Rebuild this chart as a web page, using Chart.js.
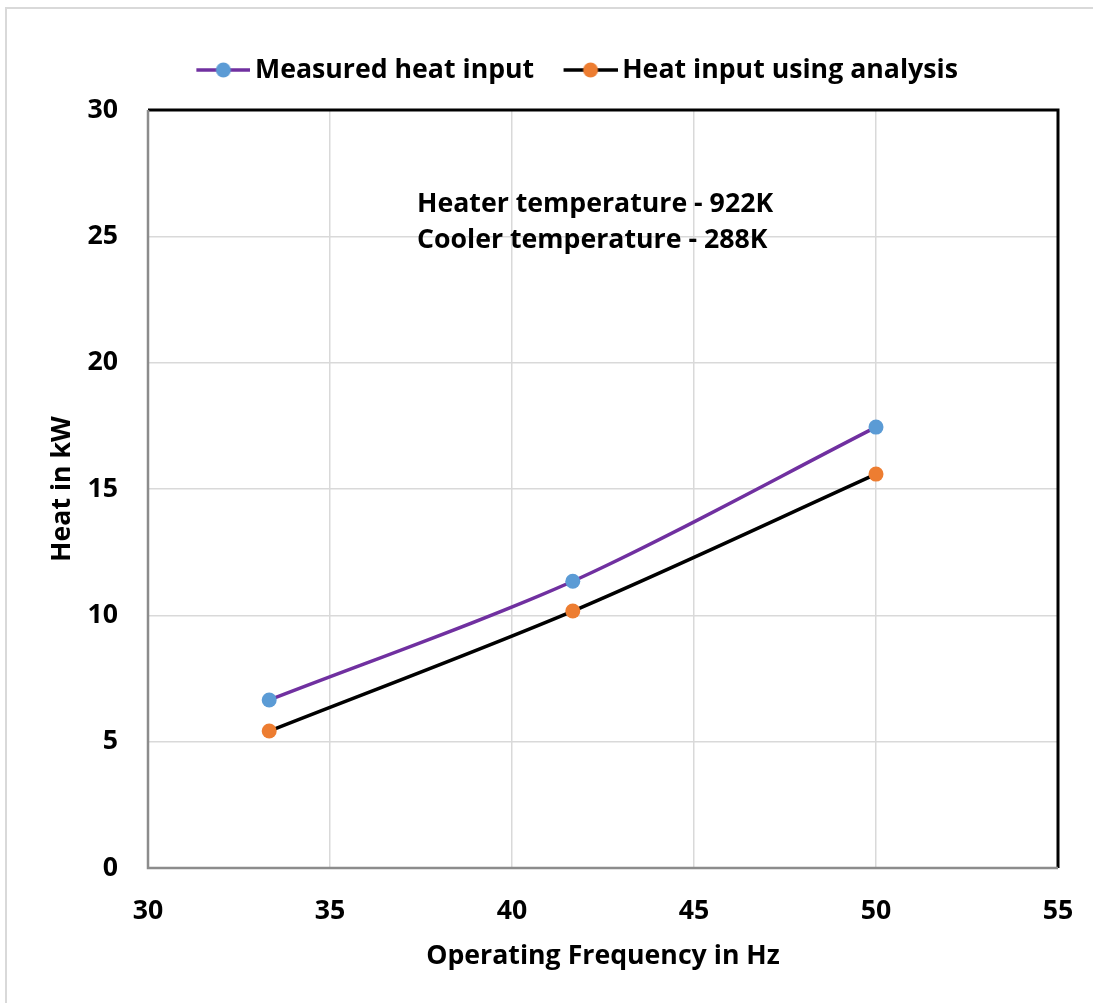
<!DOCTYPE html>
<html>
<head>
<meta charset="utf-8">
<script src="https://cdn.jsdelivr.net/npm/chart.js@4.4.1/dist/chart.umd.min.js"></script>
<style>
  html, body { margin: 0; padding: 0; background: #fff; }
  #wrap { position: relative; width: 1093px; height: 1003px; overflow: hidden; }
  #frame { position: absolute; left: 5px; top: 7px; width: 1100px; height: 1010px; border-left: 2px solid #d9d9d9; border-top: 2px solid #d9d9d9; box-sizing: border-box; pointer-events: none; }
  canvas { position: absolute; left: 0; top: 0; }
</style>
</head>
<body>
<div id="wrap">
  <canvas id="c" width="1093" height="1003"></canvas>
  <div id="frame"></div>
</div>
<script>
const frequencies = [33.33, 41.67, 50];
const measuredHeat = [6.65, 11.35, 17.45];
const analysisHeat = [5.42, 10.17, 15.59];
const seriesNames = ["Measured heat input", "Heat input using analysis"];
const xTitle = "Operating Frequency in Hz";
const yTitle = "Heat in kW";
const noteLines = ["Heater temperature - 922K", "Cooler temperature - 288K"];
const xRange = [30, 55, 5];
const yRange = [0, 30, 5];

const FAMILY = "'Open Sans', 'Noto Sans', sans-serif";

function build() {
  // size font so its width matches the reference's Calibri-bold text
  const mctx = document.createElement('canvas').getContext('2d');
  mctx.font = "bold 100px " + FAMILY;
  const fs = Math.round(100 * 356 / mctx.measureText(noteLines[0]).width * 10) / 10;
  const FONT = { family: FAMILY, size: fs, weight: 'bold' };
  const lh = fs * 1.2;

  const P = { left: 0, right: 35, bottom: 0 };
  const LEG_PAD = 29;
  P.top = 110 - (fs + LEG_PAD + 10);

  // legend icon: line + dot; box width chosen so text starts 59px after icon start
  const bw = 59 - fs / 2;
  function legendIcon(lineColor, dotColor) {
    const W = Math.ceil(2 * (54 - bw / 2));
    const cv = document.createElement('canvas');
    cv.width = W; cv.height = 20;
    const g = cv.getContext('2d');
    const x0 = W - 54;
    g.strokeStyle = lineColor; g.lineWidth = 3.5;
    g.beginPath(); g.moveTo(x0, 10); g.lineTo(W, 10); g.stroke();
    g.fillStyle = dotColor;
    g.beginPath(); g.arc(x0 + 27, 10, 7.5, 0, Math.PI * 2); g.fill();
    return cv;
  }

  const frameBorder = {
    id: 'frameBorder',
    afterLayout(chart) {
      const lg = chart.legend;
      lg.left = 196 - LEG_PAD;
      lg.right = 1093;
      lg.top = 70 - LEG_PAD - fs / 2;
    },
    afterDatasetsDraw(chart) {
      const { ctx, chartArea: a } = chart;
      ctx.save();
      ctx.strokeStyle = '#000'; ctx.lineWidth = 3;
      ctx.beginPath();
      ctx.moveTo(a.left, a.top); ctx.lineTo(a.right, a.top); ctx.lineTo(a.right, a.bottom);
      ctx.stroke();
      ctx.strokeStyle = '#8c8c8c'; ctx.lineWidth = 2.5;
      ctx.beginPath();
      ctx.moveTo(a.left, a.top); ctx.lineTo(a.left, a.bottom); ctx.lineTo(a.right, a.bottom);
      ctx.stroke();
      const xs = chart.scales.x, ys = chart.scales.y;
      ctx.fillStyle = '#000';
      ctx.font = "bold " + fs + "px " + FAMILY;
      ctx.textBaseline = 'alphabetic';
      ctx.textAlign = 'left';
      ctx.fillText(noteLines[0], xs.getPixelForValue(37.39), ys.getPixelForValue(25.96));
      ctx.fillText(noteLines[1], xs.getPixelForValue(37.39), ys.getPixelForValue(24.54));
      ctx.restore();
    }
  };

  new Chart(document.getElementById('c'), {
    type: 'scatter',
    data: {
      datasets: [
        {
          label: seriesNames[0],
          data: frequencies.map((f, i) => ({ x: f, y: measuredHeat[i] })),
          showLine: true,
          borderColor: '#7030A0',
          backgroundColor: '#5B9BD5',
          pointBackgroundColor: '#5B9BD5',
          pointBorderWidth: 0,
          borderWidth: 3.5,
          pointRadius: 7.5,
          tension: 0.3,
          legendIcon: legendIcon('#7030A0', '#5B9BD5')
        },
        {
          label: seriesNames[1],
          data: frequencies.map((f, i) => ({ x: f, y: analysisHeat[i] })),
          showLine: true,
          borderColor: '#000000',
          backgroundColor: '#ED7D31',
          pointBackgroundColor: '#ED7D31',
          pointBorderWidth: 0,
          borderWidth: 3.5,
          pointRadius: 7.5,
          tension: 0.3,
          legendIcon: legendIcon('#000000', '#ED7D31')
        }
      ]
    },
    options: {
      responsive: false,
      animation: false,
      layout: { padding: P },
      plugins: {
        tooltip: { enabled: false },
        legend: {
          position: 'top',
          align: 'start',
          labels: {
            usePointStyle: true,
            pointStyleWidth: bw,
            color: '#000',
            font: FONT,
            padding: LEG_PAD,
            generateLabels(chart) {
              return chart.data.datasets.map((d, i) => ({
                text: d.label,
                pointStyle: d.legendIcon,
                fillStyle: d.backgroundColor,
                strokeStyle: d.borderColor,
                lineWidth: 0,
                hidden: false,
                datasetIndex: i,
                fontColor: '#000'
              }));
            }
          }
        }
      },
      scales: {
        x: {
          type: 'linear',
          min: xRange[0], max: xRange[1],
          afterFit(s) { s.height = 1003 - 868 - P.bottom; s.paddingLeft = 0; s.paddingRight = 0; },
          ticks: { stepSize: xRange[2], color: '#000', font: FONT, padding: 27 },
          grid: { color: '#d9d9d9', lineWidth: 1.5, drawTicks: false },
          border: { display: false },
          title: { display: true, text: xTitle, color: '#000', font: FONT, padding: { top: 0, bottom: 1003 - P.bottom - 956 - lh / 2 } }
        },
        y: {
          type: 'linear',
          min: yRange[0], max: yRange[1],
          afterFit(s) { s.width = 148 - P.left; s.paddingTop = 0; s.paddingBottom = 0; },
          ticks: { stepSize: yRange[2], color: '#000', font: FONT, padding: 30 },
          grid: { color: '#d9d9d9', lineWidth: 1.5, drawTicks: false },
          border: { display: false },
          title: { display: true, text: yTitle, color: '#000', font: FONT, padding: { top: 62 - P.left - lh / 2, bottom: 0 } }
        }
      }
    },
    plugins: [frameBorder]
  });
}

if (document.fonts && document.fonts.load) {
  document.fonts.load("bold 20px 'Open Sans'").then(build, build);
} else {
  build();
}
</script>
</body>
</html>
